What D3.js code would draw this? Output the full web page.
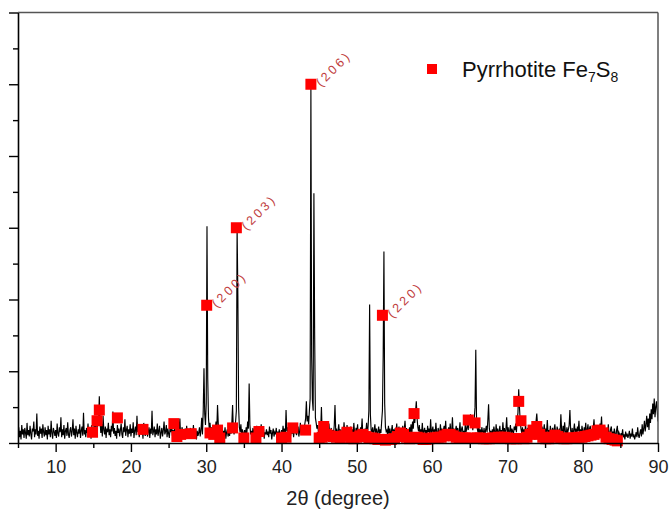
<!DOCTYPE html>
<html><head><meta charset="utf-8">
<script src="https://cdn.jsdelivr.net/npm/d3@7"></script>
<style>body{margin:0;background:#fff}svg{display:block}</style>
</head><body><svg id="c" width="671" height="516"></svg>
<script>
// ---------- DATA ----------
const scanStart = 5, scanStep = 0.1;   // 2θ sampling of the measured pattern
// measured intensity (arbitrary units, 1 unit = one major y tick), 5.0° … 90.0°
const intensity = [
0.10,0.22,0.08,0.17,0.05,0.25,0.12,0.19,0.07,0.21,
0.14,0.06,0.28,0.11,0.18,0.09,0.24,0.13,0.05,0.20,
0.16,0.30,0.08,0.19,0.12,0.41,0.10,0.17,0.06,0.23,
0.13,0.20,0.07,0.26,0.15,0.09,0.22,0.11,0.18,0.05,
0.24,0.12,0.19,0.08,0.31,0.14,0.06,0.21,0.16,0.10,
0.18,0.07,0.27,0.13,0.09,0.22,0.15,0.36,0.08,0.19,
0.11,0.25,0.06,0.17,0.21,0.10,0.29,0.12,0.07,0.18,
0.22,0.09,0.16,0.33,0.11,0.20,0.06,0.24,0.14,0.08,
0.19,0.13,0.26,0.07,0.17,0.23,0.10,0.42,0.12,0.18,
0.08,0.21,0.14,0.27,0.09,0.16,0.22,0.06,0.25,0.13,
0.17,0.24,0.10,0.30,0.15,0.19,0.35,0.28,0.65,0.30,
0.14,0.26,0.09,0.38,0.18,0.12,0.23,0.07,0.20,0.15,
0.28,0.11,0.19,0.08,0.24,0.16,0.44,0.13,0.21,0.10,
0.17,0.06,0.25,0.14,0.20,0.09,0.18,0.27,0.12,0.07,
0.22,0.15,0.33,0.10,0.18,0.24,0.08,0.19,0.13,0.26,
0.09,0.20,0.14,0.29,0.07,0.17,0.23,0.11,0.38,0.15,
0.21,0.08,0.16,0.25,0.12,0.19,0.06,0.28,0.14,0.10,
0.18,0.26,0.09,0.15,0.22,0.07,0.20,0.13,0.45,0.11,
0.16,0.23,0.08,0.19,0.12,0.27,0.10,0.17,0.24,0.06,
0.14,0.21,0.09,0.18,0.30,0.12,0.16,0.25,0.08,0.20,
0.13,0.07,0.22,0.15,0.28,0.10,0.18,0.05,0.24,0.12,
0.17,0.09,0.26,0.11,0.19,0.34,0.08,0.16,0.22,0.06,
0.15,0.10,0.20,0.07,0.24,0.12,0.18,0.08,0.14,0.21,
0.06,0.16,0.11,0.25,0.08,0.13,0.19,0.05,0.17,0.10,
0.14,0.22,0.09,0.18,0.35,0.12,0.45,1.04,0.40,0.25,
0.55,3.02,0.90,0.35,0.20,0.28,0.14,0.22,0.10,0.18,
0.25,0.12,0.20,0.30,0.18,0.53,0.26,0.15,0.22,0.10,
0.14,0.20,0.08,0.17,0.11,0.22,0.06,0.15,0.19,0.09,
0.16,0.10,0.21,0.13,0.27,0.53,0.18,0.12,0.24,0.30,
0.45,3.00,2.06,0.50,0.22,0.15,0.26,0.12,0.19,0.14,
0.10,0.18,0.08,0.22,0.14,0.30,0.20,0.83,0.25,0.12,
0.17,0.09,0.21,0.13,0.19,0.07,0.15,0.24,0.11,0.18,
0.08,0.20,0.14,0.26,0.10,0.17,0.22,0.06,0.15,0.12,
0.19,0.11,0.16,0.08,0.23,0.13,0.18,0.05,0.14,0.20,
0.09,0.15,0.12,0.21,0.07,0.16,0.10,0.19,0.06,0.13,
0.18,0.11,0.24,0.14,0.20,0.09,0.46,0.16,0.22,0.12,
0.15,0.25,0.10,0.19,0.13,0.21,0.08,0.17,0.26,0.14,
0.11,0.18,0.23,0.09,0.16,0.28,0.12,0.20,0.15,0.24,
0.19,0.27,0.34,0.58,0.30,0.38,0.26,0.45,0.62,4.95,
1.20,0.60,0.45,3.48,1.50,0.35,0.28,0.20,0.25,0.16,
0.14,0.22,0.18,0.50,0.12,0.20,0.26,0.10,0.17,0.23,
0.09,0.19,0.14,0.27,0.11,0.16,0.21,0.08,0.18,0.13,
0.24,0.53,0.15,0.20,0.10,0.17,0.26,0.12,0.19,0.08,
0.16,0.22,0.11,0.29,0.14,0.18,0.09,0.25,0.13,0.20,
0.10,0.17,0.23,0.12,0.19,0.08,0.28,0.15,0.11,0.21,
0.14,0.26,0.09,0.18,0.13,0.22,0.16,0.34,0.10,0.19,
0.12,0.20,0.15,0.28,0.11,0.24,0.45,1.93,0.40,0.18,
0.15,0.22,0.09,0.18,0.26,0.12,0.20,0.08,0.16,0.23,
0.11,0.19,0.14,0.30,0.45,1.20,2.67,0.55,0.22,0.16,
0.18,0.10,0.24,0.13,0.20,0.08,0.17,0.25,0.12,0.19,
0.09,0.21,0.15,0.27,0.11,0.18,0.23,0.07,0.16,0.20,
0.13,0.24,0.10,0.19,0.31,0.14,0.21,0.08,0.17,0.12,
0.22,0.15,0.26,0.11,0.30,0.20,0.38,0.28,0.44,0.58,
0.35,0.22,0.16,0.25,0.10,0.19,0.13,0.28,0.09,0.17,
0.21,0.12,0.18,0.07,0.24,0.15,0.20,0.10,0.33,0.14,
0.17,0.23,0.09,0.19,0.12,0.28,0.15,0.08,0.21,0.16,
0.11,0.26,0.14,0.20,0.07,0.18,0.24,0.13,0.31,0.10,
0.19,0.15,0.22,0.09,0.27,0.13,0.17,0.36,0.12,0.20,
0.08,0.18,0.24,0.14,0.21,0.10,0.16,0.29,0.11,0.19,
0.23,0.13,0.17,0.08,0.26,0.15,0.20,0.30,0.18,0.38,
0.26,0.40,0.22,0.31,0.18,0.27,0.35,0.50,1.30,0.32,
0.20,0.14,0.25,0.11,0.19,0.09,0.22,0.16,0.13,0.21,
0.10,0.18,0.24,0.15,0.32,0.54,0.20,0.13,0.17,0.08,
0.19,0.12,0.23,0.16,0.09,0.26,0.14,0.20,0.11,0.17,
0.24,0.08,0.18,0.13,0.29,0.15,0.21,0.10,0.19,0.36,
0.14,0.22,0.11,0.17,0.25,0.09,0.20,0.16,0.12,0.23,
0.18,0.27,0.15,0.33,0.42,0.75,0.50,0.30,0.20,0.14,
0.22,0.12,0.19,0.09,0.26,0.16,0.13,0.21,0.08,0.18,
0.15,0.24,0.11,0.20,0.17,0.28,0.14,0.22,0.30,0.41,
0.25,0.16,0.21,0.12,0.19,0.09,0.23,0.14,0.18,0.26,
0.10,0.20,0.15,0.32,0.12,0.18,0.08,0.24,0.16,0.13,
0.21,0.11,0.19,0.26,0.14,0.09,0.23,0.17,0.12,0.20,
0.15,0.40,0.18,0.11,0.24,0.13,0.29,0.16,0.09,0.22,
0.14,0.19,0.25,0.46,0.17,0.12,0.21,0.08,0.18,0.27,
0.13,0.20,0.10,0.23,0.16,0.31,0.12,0.19,0.09,0.24,
0.17,0.11,0.22,0.15,0.28,0.13,0.18,0.26,0.10,0.20,
0.24,0.14,0.19,0.09,0.21,0.33,0.16,0.12,0.25,0.18,
0.11,0.22,0.15,0.27,0.19,0.37,0.13,0.20,0.16,0.24,
0.09,0.17,0.21,0.12,0.26,0.14,0.08,0.19,0.23,0.11,
0.16,0.10,0.20,0.13,0.07,0.18,0.24,0.09,0.15,0.12,
0.06,0.14,0.10,0.19,0.08,0.12,0.05,0.16,0.09,0.13,
0.07,0.11,0.17,0.06,0.13,0.09,0.20,0.08,0.12,0.05,
0.10,0.15,0.08,0.22,0.11,0.07,0.14,0.19,0.09,0.26,
0.12,0.20,0.31,0.16,0.25,0.38,0.22,0.34,0.18,0.41,
0.28,0.47,0.33,0.55,0.40,0.62,0.36,0.50,0.58,0.44,
0.30
];

// Pyrrhotite Fe7S8 reference markers (2θ, height)
const refTheta = [14.9,15.5,15.8,18.2,21.6,25.7,26.1,26.6,28.0,30.06,30.5,31.0,31.5,31.8,33.5,34.0,35.0,36.6,37.0,40.0,40.6,41.5,43.2,43.9,
45.0,45.4,45.6,46.0,46.4,46.9,47.3,47.8,48.3,48.7,49.2,49.6,50.0,50.4,50.8,51.2,51.6,52.0,52.4,52.8,53.4,53.8,54.2,54.6,55.0,55.4,55.8,56.2,56.6,57.0,57.6,57.6,58.0,58.4,58.8,59.2,59.6,
60.0,60.4,60.8,61.2,61.6,62.0,62.4,62.8,63.2,63.6,64.0,64.4,64.8,65.2,65.7,66.0,66.4,66.8,67.2,67.6,68.0,68.4,68.8,69.2,69.6,70.0,70.4,70.8,71.2,71.5,71.8,72.2,72.6,73.0,73.4,73.9,74.3,74.7,
75.1,75.5,75.9,76.3,76.7,77.1,77.5,77.9,78.3,78.7,79.1,79.5,79.9,80.3,80.7,81.1,81.5,81.9,82.3,82.7,83.1,83.5,83.9,84.3,84.6];
const refHeight = [0.15,0.31,0.46,0.35,0.19,0.27,0.09,0.12,0.13,1.92,0.14,0.12,0.18,0.07,0.21,3.00,0.07,0.07,0.16,0.07,0.08,0.21,0.18,5.00,
0.07,0.08,0.23,0.12,0.10,0.09,0.08,0.07,0.10,0.15,0.07,0.06,0.08,0.10,0.12,0.09,0.07,0.07,0.06,0.05,1.78,0.04,0.05,0.05,0.06,0.09,0.14,0.12,0.08,0.06,0.41,0.07,0.08,0.07,0.05,0.05,0.06,
0.07,0.07,0.08,0.08,0.10,0.12,0.12,0.10,0.08,0.07,0.07,0.07,0.32,0.07,0.28,0.07,0.07,0.06,0.06,0.06,0.07,0.07,0.08,0.08,0.08,0.07,0.06,0.06,0.06,0.58,0.31,0.06,0.08,0.12,0.18,0.23,0.12,0.08,
0.06,0.06,0.08,0.11,0.09,0.07,0.06,0.06,0.07,0.07,0.07,0.08,0.08,0.09,0.10,0.11,0.12,0.17,0.18,0.14,0.08,0.06,0.05,0.04,0.03];

// Miller-index annotations
const hklLabels = ["(200)","(203)","(206)","(220)"];
const hklTheta  = [30.06, 34.0, 43.9, 53.4];
const hklHeight = [1.92, 3.00, 5.00, 1.78];

const xMajorTicks = [10,20,30,40,50,60,70,80,90];
const xMinorTicks = [5,15,25,35,45,55,65,75,85];
const yMajorTicks = [0,1,2,3,4,5,6];
const yMinorTicks = [0.5,1.5,2.5,3.5,4.5,5.5];

const xTitle = "2θ (degree)";
const legendName = "Pyrrhotite Fe", legendSub1 = "7", legendMid = "S", legendSub2 = "8";

// ---------- DRAW ----------
const FONT = "'Liberation Sans', Arial, sans-serif";
const M = {left:18, right:658, top:12.5, bottom:443};
const x = d3.scaleLinear().domain([5,90]).range([M.left, M.right]);
const y = d3.scaleLinear().domain([0,6]).range([M.bottom, M.top]);
const svg = d3.select('#c');
svg.append('rect').attr('width',671).attr('height',516).attr('fill','#fff');

svg.append('defs').append('clipPath').attr('id','clip')
  .append('rect').attr('x',M.left).attr('y',M.top).attr('width',M.right-M.left).attr('height',M.bottom-M.top);

// spectrum
const line = d3.line().x((d,i)=>x(scanStart+i*scanStep)).y(d=>y(d));
svg.append('path').datum(intensity).attr('clip-path','url(#clip)')
  .attr('d',line).attr('fill','none').attr('stroke','#000').attr('stroke-width',1.15).attr('stroke-linejoin','miter');

// markers
const sq = 11;
svg.append('g').selectAll('rect').data(refTheta).join('rect')
  .attr('x',(d)=>x(d)-sq/2).attr('y',(d,i)=>y(refHeight[i])-sq/2)
  .attr('width',sq).attr('height',sq).attr('fill','#ff0000');

// hkl labels
svg.append('g').selectAll('text').data(hklLabels).join('text')
  .attr('transform',(d,i)=>`translate(${x(hklTheta[i])+7},${y(hklHeight[i])}) rotate(-45)`)
  .attr('dy','0.35em').attr('font-family',FONT).attr('font-size',12.5)
  .attr('letter-spacing','3px').attr('fill','#c03c3c').text(d=>d);

// frame top/right
svg.append('line').attr('x1',M.left).attr('x2',M.right).attr('y1',M.top).attr('y2',M.top).attr('stroke','#555').attr('stroke-width',1.5);
svg.append('line').attr('x1',M.right).attr('x2',M.right).attr('y1',M.top).attr('y2',M.bottom).attr('stroke','#555').attr('stroke-width',1.5);

// axes
const gx = svg.append('g').attr('transform',`translate(0,${M.bottom})`)
  .call(d3.axisBottom(x).tickValues(xMajorTicks).tickSize(9).tickSizeOuter(0).tickPadding(8).tickFormat(d3.format('d')));
svg.append('g').attr('transform',`translate(0,${M.bottom})`)
  .call(d3.axisBottom(x).tickValues(xMinorTicks).tickSize(5).tickSizeOuter(0).tickFormat(''))
  .select('.domain').remove();
const gy = svg.append('g').attr('transform',`translate(${M.left},0)`)
  .call(d3.axisLeft(y).tickValues(yMajorTicks).tickSize(9).tickSizeOuter(0).tickFormat(''));
svg.append('g').attr('transform',`translate(${M.left},0)`)
  .call(d3.axisLeft(y).tickValues(yMinorTicks).tickSize(5).tickSizeOuter(0).tickFormat(''))
  .select('.domain').remove();
svg.selectAll('.domain').attr('stroke','#000').attr('stroke-width',1.6);
svg.selectAll('.tick line').attr('stroke','#000').attr('stroke-width',1.4);
gx.selectAll('.tick text').attr('font-family',FONT).attr('font-size',18).attr('fill','#222');

// axis title
svg.append('text').attr('x',(M.left+M.right)/2).attr('y',505).attr('text-anchor','middle')
  .attr('font-family',FONT).attr('font-size',20).attr('fill','#222').text(xTitle);

// legend
svg.append('rect').attr('x',427).attr('y',64).attr('width',10).attr('height',10).attr('fill','#ff0000');
const lt = svg.append('text').attr('x',462).attr('y',77).attr('font-family',FONT).attr('font-size',22).attr('fill','#111');
lt.append('tspan').text(legendName);
lt.append('tspan').attr('font-size',14).attr('dy',5).text(legendSub1);
lt.append('tspan').attr('dy',-5).text(legendMid);
lt.append('tspan').attr('font-size',14).attr('dy',5).text(legendSub2);
</script></body></html>
